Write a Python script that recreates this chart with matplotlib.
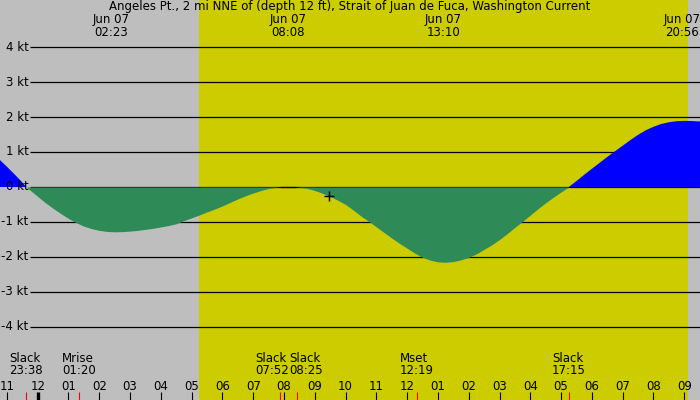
import numpy as np
import matplotlib
matplotlib.use('Agg')
from matplotlib import pyplot as plt

# DATA (hours counted from Jun 07 00:00, speed in knots)
TITLE = 'Angeles Pt., 2 mi NNE of (depth 12 ft), Strait of Juan de Fuca, Washington Current'

hours = [-1.25, -1.0, -0.75, -0.5, -0.367, -0.25, 0.0, 0.25, 0.5, 0.75, 1.0, 1.25, 1.5,
         1.75, 2.0, 2.25, 2.5, 2.75, 3.0, 3.25, 3.5, 3.75, 4.0, 4.25, 4.5, 4.75, 5.0,
         5.25, 5.5, 5.75, 6.0, 6.25, 6.5, 6.75, 7.0, 7.25, 7.5, 7.75, 7.867, 8.133,
         8.417, 8.5, 8.75, 9.0, 9.25, 9.5, 9.75, 10.0, 10.25, 10.5, 10.75, 11.0, 11.25,
         11.5, 11.75, 12.0, 12.25, 12.5, 12.75, 13.0, 13.25, 13.5, 13.75, 14.0, 14.25,
         14.5, 14.75, 15.0, 15.25, 15.5, 15.75, 16.0, 16.25, 16.5, 16.75, 17.0, 17.25,
         17.5, 17.75, 18.0, 18.25, 18.5, 18.75, 19.0, 19.25, 19.5, 19.75, 20.0, 20.25,
         20.5, 20.75, 21.0, 21.25, 21.55]
speed = [0.79, 0.58, 0.36, 0.13, 0.0, -0.09, -0.27, -0.45, -0.61, -0.76, -0.90, -1.02,
         -1.12, -1.19, -1.24, -1.27, -1.28, -1.275, -1.26, -1.24, -1.21, -1.18, -1.14,
         -1.10, -1.05, -0.96, -0.88, -0.80, -0.71, -0.63, -0.54, -0.44, -0.34, -0.25,
         -0.17, -0.10, -0.04, -0.01, 0.0, 0.0, 0.0, -0.01, -0.04, -0.10, -0.18, -0.27,
         -0.38, -0.50, -0.66, -0.83, -0.98, -1.14, -1.30, -1.46, -1.61, -1.75, -1.89,
         -2.01, -2.09, -2.14, -2.15, -2.13, -2.08, -2.01, -1.91, -1.78, -1.65, -1.50,
         -1.33, -1.15, -0.98, -0.80, -0.62, -0.45, -0.29, -0.14, 0.0, 0.17, 0.35, 0.52,
         0.69, 0.86, 1.02, 1.18, 1.34, 1.49, 1.62, 1.72, 1.80, 1.85, 1.88, 1.89, 1.885,
         1.87]

# max / min current labels at the top
peak_hours = [2.383, 8.133, 13.167, 20.933]
peak_dates = ['Jun 07', 'Jun 07', 'Jun 07', 'Jun 07']
peak_times = ['02:23', '08:08', '13:10', '20:56']

# events along the bottom
event_names = ['Slack', 'Mrise', 'Slack', 'Slack', 'Mset', 'Slack']
event_times = ['23:38', '01:20', '07:52', '08:25', '12:19', '17:15']
event_hours = [-0.367, 1.333, 7.867, 8.417, 12.317, 17.25]

hour_ticks = list(range(-1, 22))
hour_labels = ['11', '12', '01', '02', '03', '04', '05', '06', '07', '08', '09', '10',
               '11', '12', '01', '02', '03', '04', '05', '06', '07', '08', '09']

kt_levels = [4, 3, 2, 1, 0, -1, -2, -3, -4]

sunrise = 5.237
sunset = 21.12

# STYLE
NIGHT = '#bebebe'
DAY = '#cccc00'
EBB = '#2e8b57'
FLOOD = '#0000ff'
FS = 8.5

fig = plt.figure(figsize=(7, 4), dpi=100)
ax = fig.add_axes([0, 0, 1, 1])
ax.set_xlim(-1.2244, 21.511)
ax.set_ylim(-6.086, 5.343)
ax.set_facecolor(NIGHT)
ax.axis('off')
fig.patch.set_facecolor(NIGHT)

# daylight
ax.axvspan(sunrise, sunset, color=DAY, lw=0, zorder=0)

# grid lines
ax.hlines(kt_levels, -0.25, 21.6, colors='black', lw=0.9, zorder=1)
for k in kt_levels:
    ax.text(-0.3, k, '%d kt' % k, ha='right', va='center', fontsize=FS)

# current
t = np.array(hours)
v = np.array(speed)
ax.fill_between(t, v, 0, where=v >= 0, color=FLOOD, lw=0, interpolate=True, zorder=2)
ax.fill_between(t, v, 0, where=v <= 0, color=EBB, lw=0, interpolate=True, zorder=2)
ax.hlines(0, 7.9, 8.4, colors='black', lw=0.9, zorder=3)

# current time marker
ax.plot([9.47], [-0.26], marker='+', color='black', ms=7, mew=1, zorder=4)

# title and peak labels
ax.text(10.143, 5.143, TITLE, ha='center', va='center', fontsize=FS)
for h, d, s in zip(peak_hours, peak_dates, peak_times):
    ax.text(h, 4.607, d + '\n' + s, ha='center', va='center', fontsize=FS, linespacing=1.0)

# event labels (the two close slacks get pushed apart)
shift = {2: -0.24, 3: 0.3}
for i, (name, tm, h) in enumerate(zip(event_names, event_times, event_hours)):
    ax.text(h + shift.get(i, 0), -5.07, name + '\n' + tm, ha='center', va='center',
            ma='left', fontsize=FS, linespacing=0.95)
    ax.vlines(h, -6.1, -5.857, colors='red', lw=0.8, zorder=3)

# hour ticks
for h, lab in zip(hour_ticks, hour_labels):
    ax.text(h, -5.69, lab, ha='center', va='center', fontsize=FS)
    ax.vlines(h, -6.1, -5.857, colors='black', lw=2.4 if h == 0 else 0.8, zorder=3)

fig.savefig('out.png', dpi=100, facecolor=NIGHT)
